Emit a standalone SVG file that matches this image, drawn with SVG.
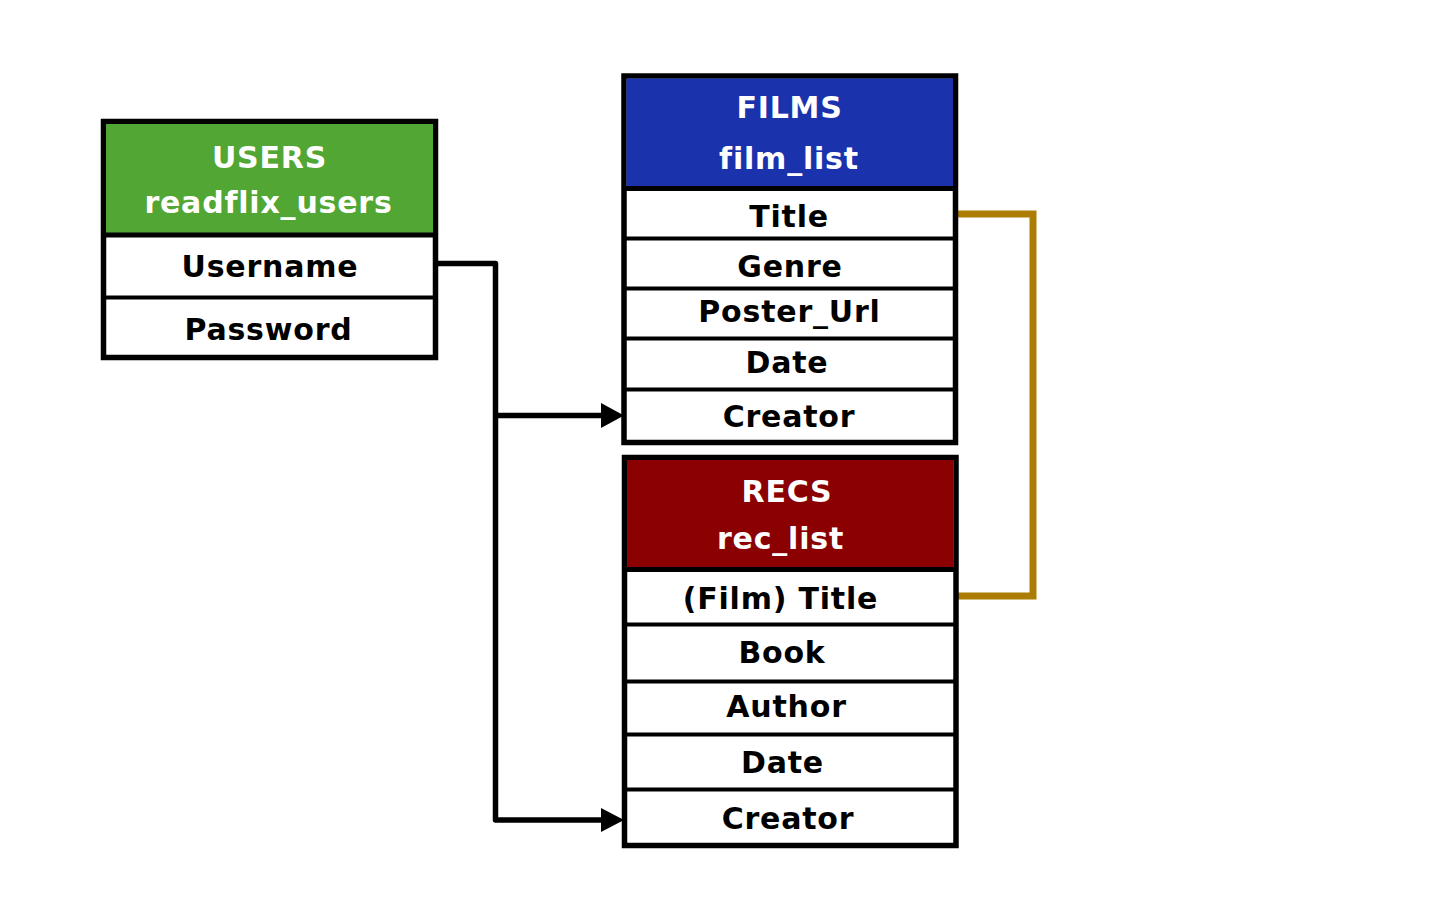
<svg xmlns="http://www.w3.org/2000/svg" width="1440" height="900" viewBox="0 0 1440 900">
<style>
.frame{fill:#ffffff;stroke:#000000;stroke-width:5.5}
.sep{stroke:#000000;stroke-width:4}
.hsep{stroke:#000000;stroke-width:5}
.t{font-family:"DejaVu Sans","Verdana",sans-serif;font-weight:bold;font-size:30px;letter-spacing:0.8px;text-anchor:middle}
.hd{fill:#ffffff}
.fd{fill:#000000}
.conn{fill:none;stroke:#000000;stroke-width:5.5;stroke-linejoin:round}
.link{fill:none;stroke:#ad7c04;stroke-width:7}
</style>
<rect width="1440" height="900" fill="#ffffff"/>
<g id="connectors">
<path class="conn" d="M438 263.5 H495.5 V820 H606"/>
<path class="conn" d="M495.5 415.5 H606"/>
<polygon points="601,403 624,415.5 601,428" fill="#000000"/>
<polygon points="601,808 624,820 601,832" fill="#000000"/>
<path class="link" d="M958 214 H1033 V596 H958"/>
</g>
<g id="users">
<rect class="frame" x="103.5" y="121.5" width="332" height="236"/>
<rect x="106" y="124" width="327" height="110" fill="#52a633"/>
<line class="hsep" x1="103" y1="235" x2="436" y2="235"/>
<line class="sep" x1="103" y1="297.5" x2="436" y2="297.5"/>
<text class="t hd" x="269.5" y="168">USERS</text>
<text class="t hd" x="268.5" y="213">readflix_users</text>
<text class="t fd" x="270" y="277">Username</text>
<text class="t fd" x="268.5" y="340">Password</text>
</g>
<g id="films">
<rect class="frame" x="624" y="76" width="331.5" height="366.5"/>
<rect x="626.5" y="78.5" width="326.5" height="110" fill="#1a33ad"/>
<line class="hsep" x1="624" y1="188.5" x2="955" y2="188.5"/>
<line class="sep" x1="624" y1="238.5" x2="955" y2="238.5"/>
<line class="sep" x1="624" y1="288.5" x2="955" y2="288.5"/>
<line class="sep" x1="624" y1="338.5" x2="955" y2="338.5"/>
<line class="sep" x1="624" y1="389.5" x2="955" y2="389.5"/>
<text class="t hd" x="789.5" y="118">FILMS</text>
<text class="t hd" x="789" y="169">film_list</text>
<text class="t fd" x="789" y="227">Title</text>
<text class="t fd" x="790" y="277">Genre</text>
<text class="t fd" x="789.5" y="322">Poster_Url</text>
<text class="t fd" x="787" y="373">Date</text>
<text class="t fd" x="789" y="427">Creator</text>
</g>
<g id="recs">
<rect class="frame" x="624.5" y="457.5" width="331.5" height="388"/>
<rect x="627" y="460" width="326.5" height="109" fill="#8b0000"/>
<line class="hsep" x1="624" y1="569.5" x2="956" y2="569.5"/>
<line class="sep" x1="624" y1="624.5" x2="956" y2="624.5"/>
<line class="sep" x1="624" y1="681.5" x2="956" y2="681.5"/>
<line class="sep" x1="624" y1="734.5" x2="956" y2="734.5"/>
<line class="sep" x1="624" y1="789.5" x2="956" y2="789.5"/>
<text class="t hd" x="787" y="502">RECS</text>
<text class="t hd" x="780.5" y="549">rec_list</text>
<text class="t fd" x="780.5" y="609">(Film) Title</text>
<text class="t fd" x="782" y="663">Book</text>
<text class="t fd" x="786.5" y="717">Author</text>
<text class="t fd" x="782.5" y="773">Date</text>
<text class="t fd" x="788" y="829">Creator</text>
</g>
</svg>
